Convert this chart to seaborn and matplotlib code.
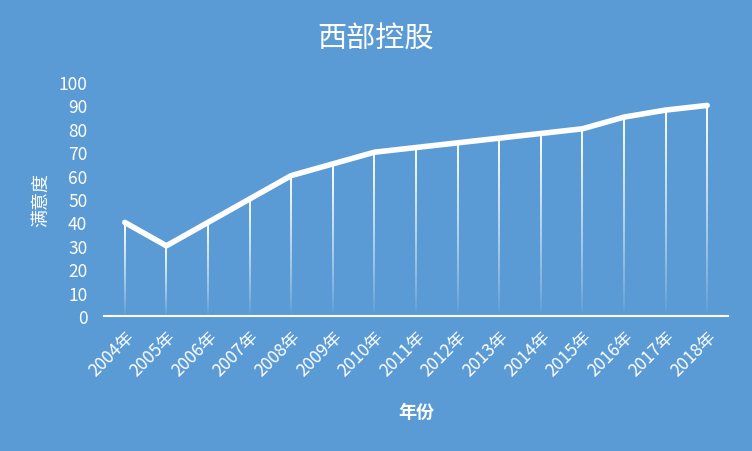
import matplotlib
matplotlib.use("Agg")
import matplotlib.pyplot as plt
import numpy as np
import pandas as pd
import seaborn as sns
from matplotlib.collections import LineCollection

years = ["2004年", "2005年", "2006年", "2007年", "2008年", "2009年", "2010年", "2011年",
         "2012年", "2013年", "2014年", "2015年", "2016年", "2017年", "2018年"]
satisfaction = [40, 30, 40, 50, 60, 65, 70, 72, 74, 76, 78, 80, 85, 88, 90]

bg = "#5B9BD5"

sns.set_theme(style="white")
plt.rcParams['font.family'] = ['Noto Sans CJK SC', 'DejaVu Sans']

df = pd.DataFrame({"year": years, "value": satisfaction})
df["pos"] = np.arange(len(df))

fig = plt.figure(figsize=(7.52, 4.52), dpi=100, facecolor=bg)
ax = fig.add_axes([104 / 752, 1 - 317 / 452, 624 / 752, 234 / 452])
ax.set_facecolor(bg)

# drop lines fading from white at the point to transparent at the axis
n_seg = 60
for x, y in zip(df["pos"], df["value"]):
    ys = np.linspace(0, y, n_seg + 1)
    segs = [[(x, ys[i]), (x, ys[i + 1])] for i in range(n_seg)]
    alphas = np.linspace(0.0, 1.0, n_seg) ** 0.8
    colors = [(1, 1, 1, a) for a in alphas]
    ax.add_collection(LineCollection(segs, colors=colors, linewidths=1.4, zorder=2))

sns.lineplot(data=df, x="pos", y="value", color="white", linewidth=4,
             solid_capstyle="round", solid_joinstyle="round", ax=ax, zorder=3)

ax.set_xlim(-0.5, len(df) - 0.5)
ax.set_ylim(0, 100)
ax.set_yticks(range(0, 101, 10))
ax.set_xticks(df["pos"])
ax.set_xticklabels(df["year"], rotation=45, ha="right", rotation_mode="anchor")
ax.tick_params(axis="both", colors="white", labelsize=12.5, length=0)
ax.tick_params(axis="x", pad=8)
ax.tick_params(axis="y", pad=12)

for side in ["top", "right", "left"]:
    ax.spines[side].set_visible(False)
ax.spines["bottom"].set_color("white")
ax.spines["bottom"].set_linewidth(1.5)

ax.set_xlabel("年份", color="white", fontsize=13, fontweight="bold", labelpad=16)
ax.set_ylabel("满意度", color="white", fontsize=13, labelpad=6)
fig.text(0.5, 1 - 40 / 452, "西部控股", color="white", fontsize=21,
         ha="center", va="center")

fig.savefig("out.png", dpi=100, facecolor=bg)
